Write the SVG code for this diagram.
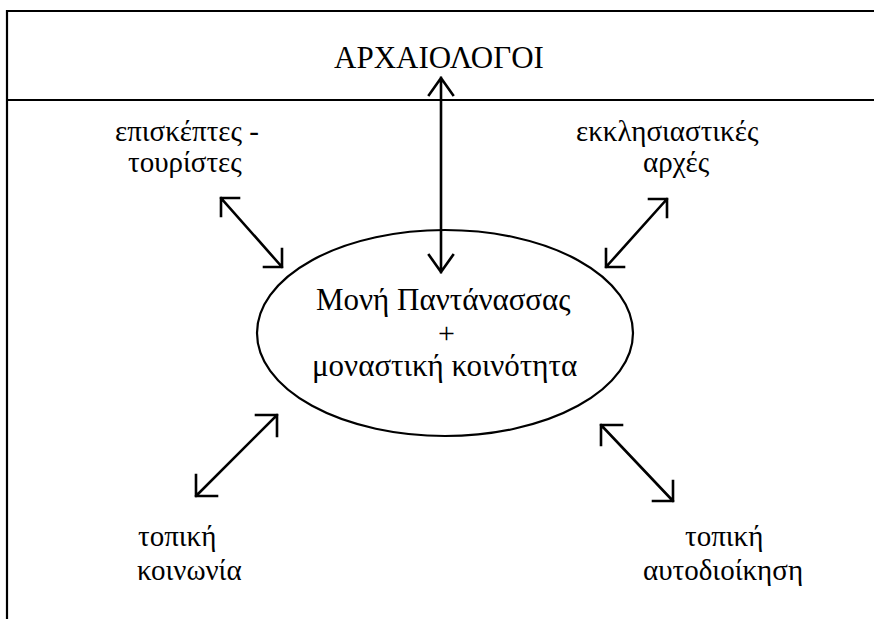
<svg xmlns="http://www.w3.org/2000/svg" width="874" height="619" viewBox="0 0 874 619">
<style>
.ln{stroke:#000;stroke-width:2.2;fill:none}
.ar{stroke:#000;stroke-width:2.6;fill:none;stroke-linecap:square}
</style>
<rect width="874" height="619" fill="#fff"/>
<g id="frame">
<path class="ln" d="M7,619 V11 H874 M7,100 H874"/>
</g>
<g id="archaeologists"><text font-family="'Liberation Serif'" font-size="31" x="334" y="68">ΑΡΧΑΙΟΛΟΓΟΙ</text></g>
<g id="monastery">
<ellipse class="ln" cx="445" cy="333" rx="188" ry="103"/>
<text font-family="'Liberation Serif'" font-size="31" x="316" y="310">Μονή Παντάνασσας</text>
<text font-family="'Liberation Serif'" font-size="30" x="438" y="343">+</text>
<text font-family="'Liberation Serif'" font-size="31" x="312" y="376">μοναστική κοινότητα</text>
</g>
<g id="visitors"><text font-family="'Liberation Serif'" font-size="29" x="115" y="141">επισκέπτες -</text><text font-family="'Liberation Serif'" font-size="29" x="128" y="172">τουρίστες</text></g>
<g id="church"><text font-family="'Liberation Serif'" font-size="29" x="576" y="141">εκκλησιαστικές</text><text font-family="'Liberation Serif'" font-size="29" x="643" y="172">αρχές</text></g>
<g id="society"><text font-family="'Liberation Serif'" font-size="29" x="138" y="546">τοπική</text><text font-family="'Liberation Serif'" font-size="29" x="137" y="580">κοινωνία</text></g>
<g id="local-gov"><text font-family="'Liberation Serif'" font-size="29" x="685" y="546">τοπική</text><text font-family="'Liberation Serif'" font-size="29" x="643" y="580">αυτοδιοίκηση</text></g>
<g id="connectors">
<path class="ar" d="M441,78 V272 M429,95 L441,78 L453,95 M429,255 L441,272 L453,255"/>
<path class="ar" d="M221,198 L282,267 M239,198 H221 V216 M282,249 V267 H264"/>
<path class="ar" d="M667,199 L606,267 M649,199 H667 V217 M606,249 V267 H624"/>
<path class="ar" d="M277,415 L196,496 M256,415 H277 V436 M196,475 V496 H217"/>
<path class="ar" d="M601,425 L673,501 M622,425 H601 V445 M673,481 V501 H653"/>
</g>
</svg>
